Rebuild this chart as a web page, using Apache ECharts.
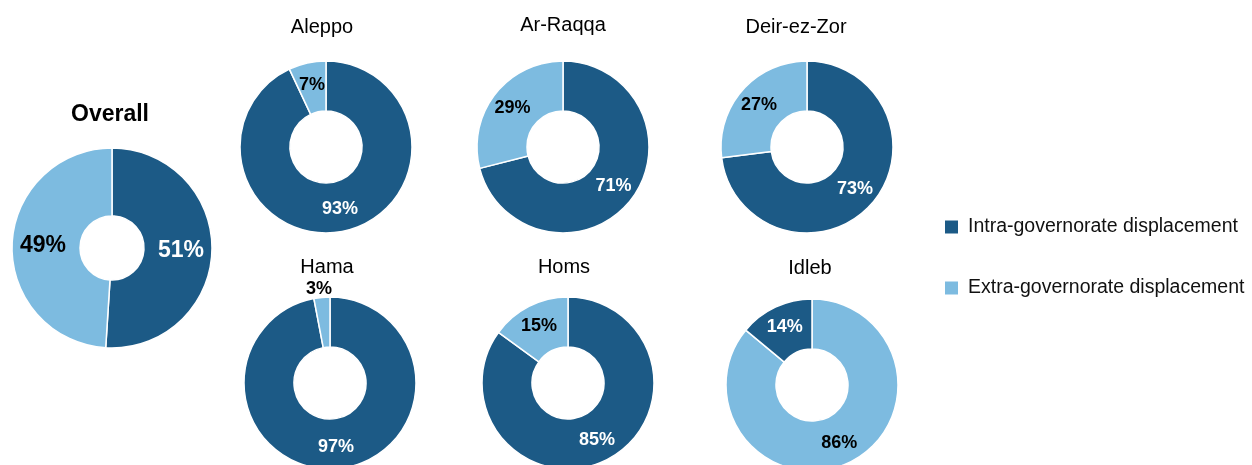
<!DOCTYPE html>
<html><head><meta charset="utf-8">
<script src="https://cdn.jsdelivr.net/npm/echarts@6/dist/echarts.min.js"></script>
<style>html,body{margin:0;padding:0;background:#fff}#c{width:1252px;height:465px}</style>
</head><body><div id="c"></div>
<script>
const regions = ['Overall','Aleppo','Ar-Raqqa','Deir-ez-Zor','Hama','Homs','Idleb'];
const intraValues = [51,93,71,73,97,85,14];
const extraValues = [49,7,29,27,3,15,86];
const seriesNames = ['Intra-governorate displacement','Extra-governorate displacement'];

const DARK = '#1c5a86', LIGHT = '#7dbbe0';
const FONT = "'Liberation Sans',Arial,sans-serif";

// layout: [cx, cy, outer, inner, titleX, titleY]
const layout = [
  [112,248,100,32,110,103],
  [326,147,86,36,322,17],
  [563,147,86,36,563,15],
  [807,147,86,36,796,17],
  [330,383,86,36,327,257],
  [568,383,86,36,564,257],
  [812,385,86,36,810,258]
];

const chart = echarts.init(document.getElementById('c'), null, {renderer:'canvas'});
const titles = [], series = [];
regions.forEach((r,i)=>{
  const [cx,cy,ro,ri,tx,ty] = layout[i];
  const big = i===0;
  titles.push({text:r, left:tx, top:ty, textAlign:'center', padding:0,
    textStyle:{fontFamily:FONT, fontSize: big?23:20, fontWeight: big?'bold':'normal', color:'#000'}});
  const dItem = {name:seriesNames[0], value:intraValues[i], itemStyle:{color:DARK},
    label:{color:'#fff'}};
  const lItem = {name:seriesNames[1], value:extraValues[i], itemStyle:{color:LIGHT},
    label:{color:'#000'}};
  if (r==='Hama') lItem.label.offset = [-5,-30];
  const data = r==='Idleb' ? [lItem,dItem] : [dItem,lItem];
  series.push({type:'pie', center:[cx,cy], radius:[ri,ro], startAngle:90, clockwise:true,
    avoidLabelOverlap:false, silent:true, animation:false,
    itemStyle:{borderColor:'#fff', borderWidth:1.5},
    label:{show:true, position:'inside', formatter:'{d}%', fontFamily:FONT, fontWeight:'bold',
      fontSize: big?23:18},
    labelLine:{show:false},
    data});
});

chart.setOption({
  animation:false,
  title: titles,
  legend:{orient:'vertical', left:938, top:212, itemWidth:15, itemHeight:15, itemGap:41,
    icon:'rect', selectedMode:false,
    textStyle:{fontFamily:FONT, fontSize:19.5, color:'#111', padding:[0,0,0,4]},
    data:[{name:seriesNames[0], itemStyle:{color:DARK}},{name:seriesNames[1], itemStyle:{color:LIGHT}}]},
  series
});
</script></body></html>
